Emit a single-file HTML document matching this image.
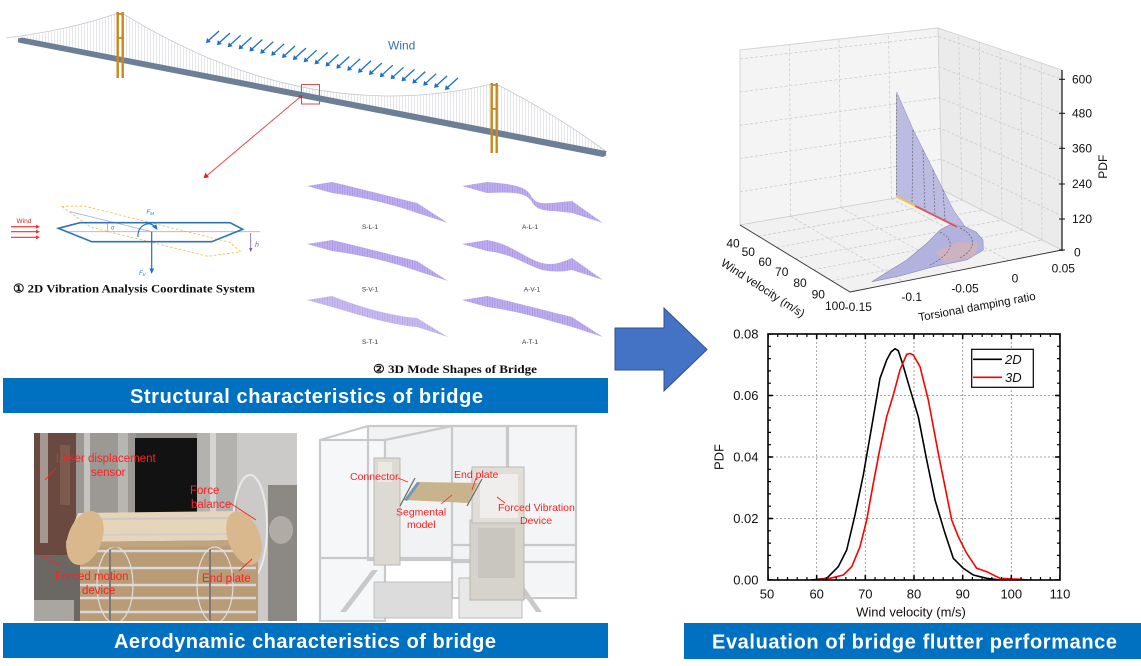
<!DOCTYPE html>
<html><head><meta charset="utf-8">
<style>
html,body{margin:0;padding:0;background:#fff;}
svg{display:block;}
text{font-family:"Liberation Sans",Arial,sans-serif;}
.sf{font-family:"Liberation Serif","Times New Roman",serif;font-weight:bold;}
</style></head><body>
<svg width="1141" height="666" viewBox="0 0 1141 666" xmlns="http://www.w3.org/2000/svg">
<defs>
<pattern id="hang" width="3" height="20" patternUnits="userSpaceOnUse">
<rect width="3" height="20" fill="#ffffff"/><rect x="0" width="0.7" height="20" fill="#d8dbe0"/>
</pattern>
<pattern id="mh" width="2.5" height="20" patternUnits="userSpaceOnUse">
<rect width="2.5" height="20" fill="#b4a2ec"/><rect x="0" width="0.8" height="20" fill="#9883e0"/>
</pattern>
<g id="wa"><line x1="13" y1="-12" x2="2" y2="-2" stroke="#1f6fc4" stroke-width="1.3"/><polygon points="0,0 1,-5 5,-1" fill="#1f6fc4"/></g>
<clipPath id="p1"><rect x="34" y="433" width="263" height="188"/></clipPath>
<clipPath id="p2"><rect x="316" y="424" width="292" height="198"/></clipPath>
<clipPath id="pl"><rect x="768" y="334" width="292" height="246"/></clipPath>
</defs>

<!-- ================= BRIDGE ================= -->
<path d="M12,39 Q70,30 118,13 L118,58.6 L22,40 Z" fill="url(#hang)"/>
<path d="M122,13 Q307,127.5 492,84 L492,131 L122,59.4 Z" fill="url(#hang)"/>
<path d="M496,84 Q552,112 607,152 L496,131.8 Z" fill="url(#hang)"/>
<path d="M6,38 Q70,30 118,13" fill="none" stroke="#c3c7ce" stroke-width="0.8"/>
<path d="M122,13 Q307,127.5 492,84" fill="none" stroke="#c3c7ce" stroke-width="0.8"/>
<path d="M496,84 Q552,112 607,152" fill="none" stroke="#c3c7ce" stroke-width="0.8"/>
<polygon points="18,38.5 22,37.5 606,151 606,155.5 603,157 18,42.5" fill="#6d7f96"/>
<!-- towers -->
<g fill="#c8891a">
<rect x="116.5" y="12" width="2.4" height="66"/><rect x="121.5" y="12" width="2.4" height="66"/>
<rect x="116.5" y="13" width="7.4" height="1.8"/><rect x="116.5" y="37" width="7.4" height="1.8"/>
<rect x="490.5" y="83" width="2.4" height="70"/><rect x="495.5" y="83" width="2.4" height="70"/>
<rect x="490.5" y="84" width="7.4" height="1.8"/><rect x="490.5" y="108" width="7.4" height="1.8"/>
</g>
<!-- wind arrows -->
<use href="#wa" x="206" y="43"/><use href="#wa" x="216.9" y="45.1"/><use href="#wa" x="227.7" y="47.3"/>
<use href="#wa" x="238.6" y="49.4"/><use href="#wa" x="249.4" y="51.5"/><use href="#wa" x="260.3" y="53.7"/>
<use href="#wa" x="271.2" y="55.8"/><use href="#wa" x="282" y="58"/><use href="#wa" x="292.9" y="60.1"/>
<use href="#wa" x="303.7" y="62.2"/><use href="#wa" x="314.6" y="64.4"/><use href="#wa" x="325.5" y="66.5"/>
<use href="#wa" x="336.3" y="68.6"/><use href="#wa" x="347.2" y="70.8"/><use href="#wa" x="358" y="72.9"/>
<use href="#wa" x="368.9" y="75"/><use href="#wa" x="379.8" y="77.2"/><use href="#wa" x="390.6" y="79.3"/>
<use href="#wa" x="401.5" y="81.4"/><use href="#wa" x="412.3" y="83.6"/><use href="#wa" x="423.2" y="85.7"/>
<use href="#wa" x="434.1" y="87.9"/><use href="#wa" x="444.9" y="90"/>
<text x="388" y="49.5" font-size="12" fill="#2e75b6">Wind</text>
<!-- red box + arrow -->
<rect x="301.5" y="84.5" width="18" height="19.5" fill="none" stroke="#e84a4a" stroke-width="1"/>
<circle cx="300.5" cy="96.7" r="1.6" fill="#e02020"/>
<line x1="300.5" y1="96.7" x2="207" y2="175.5" stroke="#e84a4a" stroke-width="1"/>
<polygon points="203.6,178.3 205.3,172.8 209,177.2" fill="#e02020"/>

<!-- ================= 2D SECTION ================= -->
<text x="16.5" y="223" font-size="6.5" fill="#e02020">Wind</text>
<g stroke="#ff2a2a" stroke-width="1.1">
<line x1="11" y1="226.7" x2="37" y2="226.7"/><line x1="11" y1="231.7" x2="37" y2="231.7"/><line x1="11" y1="237.3" x2="37" y2="237.3"/>
</g>
<g fill="#ff2a2a"><polygon points="40,226.7 36,224.8 36,228.6"/><polygon points="40,231.7 36,229.8 36,233.6"/><polygon points="40,237.3 36,235.4 36,239.2"/></g>
<polygon points="61.6,206.3 84.3,206.1 229.9,242.4 240.6,251.8 207.5,256.3 91.1,227.3" fill="none" stroke="#f2c14e" stroke-width="0.9" stroke-dasharray="2.5,2"/>
<line x1="66" y1="231.7" x2="260" y2="231.7" stroke="#b9a6e6" stroke-width="0.8"/>
<line x1="70" y1="211.7" x2="151.7" y2="231.7" stroke="#b9a6e6" stroke-width="0.8"/>
<path d="M107,223 Q108,228 107,232" fill="none" stroke="#9a86d8" stroke-width="0.7"/>
<polygon points="58.3,228.3 80,222.7 230,222.7 242.7,229.3 211.7,241.7 91.7,241.7" fill="none" stroke="#2e75b6" stroke-width="1.6"/>
<text x="111" y="229.5" font-size="6" font-style="italic" fill="#7a6ac8">α</text>
<path d="M138,237 C137,225 150,220 155,227" fill="none" stroke="#1f6fc4" stroke-width="1.1"/>
<polygon points="157.5,230 152,226.5 156.5,224.5" fill="#1f6fc4"/>
<text x="146.5" y="214" font-size="6" font-style="italic" fill="#2e75b6">F<tspan font-size="4.5" dy="1">M</tspan></text>
<line x1="151.7" y1="231.7" x2="151.7" y2="270" stroke="#1f6fc4" stroke-width="1.2"/>
<polygon points="151.7,274 149.4,268.5 154,268.5" fill="#1f6fc4"/>
<text x="139" y="275" font-size="6" font-style="italic" fill="#2e75b6">F<tspan font-size="4.5" dy="1">V</tspan></text>
<line x1="250.7" y1="233" x2="250.7" y2="249" stroke="#7a5ab8" stroke-width="0.8"/>
<polygon points="250.7,252 249,248 252.4,248" fill="#7a5ab8"/>
<text x="255" y="247" font-size="7" font-style="italic" fill="#7a5ab8">h</text>
<text class="sf" x="13" y="292.5" font-size="12" fill="#111" textLength="242" lengthAdjust="spacingAndGlyphs">① 2D Vibration Analysis Coordinate System</text>

<!-- ================= MODE SHAPES ================= -->
<g fill="url(#mh)" opacity="0.85">
<path transform="translate(307,186)" d="M0,0 L25,-4 C55,3 85,11 110,17 L141,37 L110,27 C85,18 55,11 25,7 Z"/>
<path transform="translate(462,186)" d="M0,0 L25,-4 C50,-2 62,0 68,8 C72,16 76,18 90,17 L110,15 L141,37 L110,27 L92,25 C80,25 73,22 70,16 C64,6 50,6 25,7 Z"/>
<path transform="translate(307,244)" d="M0,0 L25,-4 C55,3 85,11 110,17 L141,37 L110,27 C85,18 55,11 25,7 Z"/>
<path transform="translate(462,244)" d="M0,0 L25,-4 C50,0 62,14 80,19 C92,22 100,18 110,14 L141,36 L110,26 C100,28 92,28 80,26 C62,20 50,10 25,7 Z"/>
<path transform="translate(307,300)" d="M0,0 L25,-4 C55,8 85,16 110,18 L141,37 L110,27 C85,25 55,16 25,7 Z" opacity="0.85"/>
<path transform="translate(462,300)" d="M0,0 L25,-4 C55,3 85,11 110,17 L141,37 L110,27 C85,20 55,11 25,7 Z"/>
</g>
<g font-size="6.5" fill="#333" text-anchor="middle">
<text x="370" y="229">S-L-1</text><text x="530" y="229">A-L-1</text>
<text x="370" y="291.5">S-V-1</text><text x="532" y="291.5">A-V-1</text>
<text x="370" y="344">S-T-1</text><text x="530" y="344">A-T-1</text>
</g>
<text class="sf" x="373" y="373" font-size="12" fill="#111" textLength="164" lengthAdjust="spacingAndGlyphs">② 3D Mode Shapes of Bridge</text>

<!-- ================= BANNERS ================= -->
<rect x="3" y="378" width="605" height="35" fill="#0070c0"/>
<text x="130" y="403" font-size="20" font-weight="bold" fill="#fff" textLength="353" lengthAdjust="spacing">Structural characteristics of bridge</text>
<rect x="3" y="623" width="605" height="35" fill="#0070c0"/>
<text x="114" y="648" font-size="20" font-weight="bold" fill="#fff" textLength="382" lengthAdjust="spacing">Aerodynamic characteristics of bridge</text>
<rect x="684" y="623" width="457" height="36" fill="#0070c0"/>
<text x="712" y="648.5" font-size="20" font-weight="bold" fill="#fff" textLength="405" lengthAdjust="spacing">Evaluation of bridge flutter performance</text>

<!-- big arrow -->
<polygon points="615,328 664,328 664,308 707,349.5 664,391 664,370 615,370" fill="#4472c4" stroke="#2f528f" stroke-width="1"/>

<!-- ================= PHOTO 1 ================= -->
<g clip-path="url(#p1)">
<rect x="34" y="433" width="263" height="188" fill="#8e8a86"/>
<rect x="34" y="433" width="42" height="125" fill="#6a4a40"/>
<rect x="40" y="433" width="8" height="110" fill="#a59890"/>
<rect x="60" y="445" width="10" height="60" fill="#7d5a4e"/>
<rect x="76" y="433" width="60" height="80" fill="#9c9995"/>
<rect x="84" y="433" width="6" height="80" fill="#c6c4c0"/>
<rect x="118" y="433" width="10" height="80" fill="#b8b6b2"/>
<rect x="135" y="438" width="62" height="76" fill="#121212"/>
<rect x="197" y="433" width="40" height="82" fill="#b4b2ae"/>
<rect x="210" y="433" width="6" height="82" fill="#d6d4d0"/>
<rect x="237" y="433" width="60" height="188" fill="#cbcac8"/>
<ellipse cx="250" cy="527" rx="17" ry="52" fill="none" stroke="#e8e8e8" stroke-width="2"/>
<rect x="268" y="485" width="29" height="136" fill="#8c8985"/>
<ellipse cx="281" cy="530" rx="12" ry="14" fill="#b0aca5"/>
<rect x="76" y="545" width="182" height="76" fill="#b99b76"/>
<g stroke="#d9d9d9" stroke-width="2.5"><line x1="80" y1="551" x2="256" y2="551"/><line x1="80" y1="568" x2="256" y2="568"/><line x1="80" y1="585" x2="256" y2="585"/><line x1="80" y1="598" x2="256" y2="598"/><line x1="80" y1="612" x2="256" y2="612"/></g>
<g stroke="#7c7a78" stroke-width="2"><line x1="110" y1="548" x2="110" y2="621"/><line x1="210" y1="548" x2="210" y2="621"/></g>
<ellipse cx="115" cy="585" rx="18" ry="38" fill="none" stroke="#dedede" stroke-width="1.2"/>
<ellipse cx="215" cy="585" rx="18" ry="38" fill="none" stroke="#dedede" stroke-width="1.2"/>
<rect x="34" y="555" width="46" height="66" fill="#6b6864"/>
<rect x="34" y="600" width="40" height="21" fill="#a9a6a2"/>
<polygon points="78,513 241,511 258,540 66,542" fill="#e6d5b9"/>
<line x1="86" y1="519" x2="240" y2="518" stroke="#c9c9c9" stroke-width="2"/>
<line x1="76" y1="535" x2="250" y2="534" stroke="#cfcfcf" stroke-width="2"/>
<polygon points="66,542 258,540 258,546 66,548" fill="#bfa47f"/>
<ellipse cx="85" cy="538" rx="17" ry="28" fill="#d8b88c" transform="rotate(20 85 538)"/>
<ellipse cx="244" cy="538" rx="16" ry="28" fill="#d8b88c" transform="rotate(-20 244 538)"/>
</g>
<g fill="#ff2020" font-size="11.5">
<text x="56" y="462">Laser displacement</text><text x="91" y="476">sensor</text>
<text x="190" y="494">Force</text><text x="191" y="508">balance</text>
<text x="55" y="580">Forced motion</text><text x="82" y="594">device</text>
<text x="202" y="582">End plate</text>
</g>
<g stroke="#ff2020" stroke-width="0.9">
<line x1="56" y1="468" x2="45" y2="480"/><line x1="230" y1="503" x2="256" y2="520"/>
<line x1="62" y1="566" x2="42" y2="556"/><line x1="239" y1="571" x2="252" y2="559"/>
</g>

<!-- ================= RENDER ================= -->
<g clip-path="url(#p2)">
<rect x="452" y="426" width="124" height="170" fill="#f4f5f6"/>
<rect x="368" y="426" width="140" height="134" fill="#f1f2f3"/>
<rect x="320" y="440" width="65" height="180" fill="#f6f7f8"/>
<g fill="none" stroke="#c8c9ca" stroke-width="2.2">
<rect x="320" y="440" width="65" height="181"/>
<rect x="368" y="426" width="140" height="134"/>
<rect x="452" y="426" width="124" height="172"/>
<line x1="320" y1="558" x2="452" y2="558"/><line x1="452" y1="562" x2="576" y2="562"/>
<line x1="320" y1="440" x2="368" y2="426"/><line x1="385" y1="440" x2="452" y2="426"/>
<line x1="507" y1="426" x2="507" y2="545"/><line x1="452" y1="545" x2="576" y2="545"/>
</g>
<rect x="374" y="458" width="26" height="107" fill="#dddad3" stroke="#bdbab3" stroke-width="1"/>
<rect x="378" y="462" width="14" height="20" fill="#ebe9e4"/>
<polygon points="340,612 346,612 378,570 372,570" fill="#c9c9c9"/>
<polygon points="536,612 542,612 512,570 506,570" fill="#c9c9c9"/>
<rect x="374" y="582" width="78" height="36" fill="#dcdcdc" stroke="#c0c0c0"/>
<rect x="459" y="578" width="63" height="40" fill="#e8e8e8" stroke="#bcbcbc"/>
<rect x="470" y="520" width="54" height="80" fill="#d6d3cc" stroke="#b8b5ae"/>
<rect x="478" y="528" width="37" height="50" fill="#c9c6bf"/>
<rect x="472" y="467" width="52" height="56" fill="#e1ded8" stroke="#bdbab3"/>
<rect x="480" y="474" width="38" height="44" fill="#efeeec"/>
<polygon points="404,500 417,482 478,483 468,503" fill="#c8b48c"/>
<polygon points="404,500 417,482 420,483 407,501" fill="#6f9ab8"/>
<line x1="400" y1="506" x2="415" y2="478" stroke="#666" stroke-width="1.2"/>
<line x1="467" y1="506" x2="482" y2="479" stroke="#666" stroke-width="1.2"/>
</g>
<g fill="#ff2020" font-size="10.5">
<text x="350" y="480">Connector</text><text x="454" y="478">End plate</text>
<text x="396" y="515.5">Segmental</text><text x="407" y="528">model</text>
<text x="498" y="511">Forced Vibration</text><text x="520" y="524">Device</text>
</g>
<g stroke="#ff2020" stroke-width="0.8">
<line x1="398" y1="478" x2="408" y2="482"/><line x1="441" y1="504" x2="452" y2="495"/>
<line x1="476" y1="478" x2="472" y2="490"/><line x1="505" y1="503" x2="497" y2="497"/>
</g>

<!-- ================= 3D PLOT ================= -->
<polygon points="740,225 740,50 938,28 942,190" fill="#f4f4f4" stroke="#cfcfcf" stroke-width="0.8"/>
<polygon points="942,190 938,28 1062,70 1062,250" fill="#ebebeb" stroke="#cfcfcf" stroke-width="0.8"/>
<polygon points="740,225 942,190 1062,250 850,292" fill="#f1f1f1" stroke="#cfcfcf" stroke-width="0.8"/>
<g stroke="#cdcdcd" stroke-width="0.8" stroke-dasharray="3,2" fill="none">
<line x1="790.5" y1="216.25" x2="789.5" y2="44.5"/><line x1="841" y1="207.5" x2="839" y2="39"/><line x1="891.5" y1="198.75" x2="888.5" y2="33.5"/>
<line x1="962" y1="200" x2="958.7" y2="35"/><line x1="982" y1="210" x2="979.3" y2="42"/><line x1="1002" y1="220" x2="1000" y2="49"/><line x1="1022" y1="230" x2="1020.7" y2="56"/><line x1="1042" y1="240" x2="1041.3" y2="63"/>
<polyline points="740,191.8 941.2,159.2 1062,215.8"/><polyline points="740,158.5 940.5,128.4 1062,181.6"/>
<polyline points="740,125.3 939.7,97.7 1062,147.4"/><polyline points="740,92 939,66.9 1062,113.2"/>
<polyline points="740,58.9 938.2,36.3 1062,79.2"/>
<line x1="790.5" y1="216.25" x2="903" y2="281.5"/><line x1="841" y1="207.5" x2="956" y2="271"/><line x1="891.5" y1="198.75" x2="1009" y2="260.5"/>
<line x1="758.3" y1="236.2" x2="962" y2="200"/><line x1="776.7" y1="247.3" x2="982" y2="210"/><line x1="795" y1="258.5" x2="1002" y2="220"/><line x1="813.3" y1="269.7" x2="1022" y2="230"/><line x1="831.7" y1="280.8" x2="1042" y2="240"/>
</g>
<!-- surface -->
<polygon points="953,223 940,230 926.7,243.3 906.7,260 871.7,281.7 900,276 933.3,266.7 966.7,260 983.3,250 983,240 976,232 965,226.7" fill="#b2b2de" stroke="#8c8cb0" stroke-width="0.6"/>
<polygon points="935,252 958,242 978,243 975,256 945,263" fill="#d8b2b4" opacity="0.7"/>
<polygon points="896.7,92 913.3,130 933.3,170 953.3,210 965,226.7 956.7,226.7 896.7,196.7" fill="#b6b6e2" stroke="#8d8db5" stroke-width="0.6" opacity="0.9"/>
<g stroke="#555" stroke-width="0.6" stroke-dasharray="2,1.5" fill="none">
<line x1="896.7" y1="95" x2="896.7" y2="196"/><line x1="913" y1="130" x2="912" y2="204"/><line x1="923" y1="150" x2="925" y2="210"/>
<line x1="933" y1="170" x2="935" y2="215"/><line x1="943" y1="190" x2="945" y2="220"/>
<path d="M960,228 C975,235 978,248 960,258"/><path d="M940,232 C955,240 955,252 930,265"/>
</g>
<line x1="896.7" y1="196.7" x2="956.7" y2="226.7" stroke="#e05050" stroke-width="1.8"/>
<line x1="896.7" y1="196.7" x2="915" y2="206" stroke="#f0d040" stroke-width="1.8"/>
<!-- axes -->
<polyline points="740,225 850,292 1062,250" fill="none" stroke="#333" stroke-width="0.9"/>
<line x1="1062" y1="70" x2="1062" y2="251" stroke="#111" stroke-width="1.2"/>
<g stroke="#111" stroke-width="1"><line x1="1059" y1="79.3" x2="1065" y2="79.3"/><line x1="1059" y1="113.3" x2="1065" y2="113.3"/><line x1="1059" y1="148.3" x2="1065" y2="148.3"/><line x1="1059" y1="184" x2="1065" y2="184"/><line x1="1059" y1="219" x2="1065" y2="219"/><line x1="1059" y1="250" x2="1065" y2="250"/></g>
<g font-size="12" fill="#111">
<text x="1072" y="83.5">600</text><text x="1072" y="117.5">480</text><text x="1072" y="152.5">360</text><text x="1072" y="188">240</text><text x="1072" y="223">120</text><text x="1074" y="256.5">0</text>
</g>
<text x="1107" y="166.7" font-size="12" fill="#111" text-anchor="middle" transform="rotate(-90 1107 166.7)">PDF</text>
<g font-size="12" fill="#111" text-anchor="middle">
<text x="733" y="247.5">40</text><text x="748.3" y="256">50</text><text x="765" y="266">60</text><text x="781.7" y="276">70</text><text x="800" y="287">80</text><text x="818.3" y="298.5">90</text><text x="835" y="310">100</text>
<text x="858.3" y="311">-0.15</text><text x="911.7" y="301">-0.1</text><text x="965" y="292.5">-0.05</text><text x="1015" y="282.5">0</text><text x="1063.3" y="272.5">0.05</text>
</g>
<text x="763" y="292" font-size="11.5" fill="#111" text-anchor="middle" transform="rotate(33 763 288)">Wind velocity (m/s)</text>
<text x="977" y="310.5" font-size="11.5" fill="#111" text-anchor="middle" transform="rotate(-10.5 977 306.7)">Torsional damping ratio</text>

<!-- ================= 2D PLOT ================= -->
<g stroke="#8a8a8a" stroke-width="0.8" stroke-dasharray="2,2">
<line x1="816.7" y1="334" x2="816.7" y2="580"/><line x1="865.3" y1="334" x2="865.3" y2="580"/><line x1="914" y1="334" x2="914" y2="580"/><line x1="962.7" y1="334" x2="962.7" y2="580"/><line x1="1011.3" y1="334" x2="1011.3" y2="580"/>
<line x1="768" y1="518.5" x2="1060" y2="518.5"/><line x1="768" y1="457" x2="1060" y2="457"/><line x1="768" y1="395.5" x2="1060" y2="395.5"/>
</g>
<g clip-path="url(#pl)" fill="none" stroke-width="1.6" stroke-linejoin="round">
<polyline stroke="#000" points="811,580 826.7,578.3 838.3,566.7 846.7,550 855,515 863.3,475 871.7,426.7 880,378.3 886.7,360 891,352 895,348.7 898.3,350.7 903,365 908.3,383.3 918.3,416.7 926.7,460 935,500 945,533.3 953.3,558.3 963.3,568.3 973.3,575 986.7,578.3 1000,580"/>
<polyline stroke="#ff0000" points="811,580.5 830,578.3 843.3,575 851.7,566.7 860,546.7 866.7,520 873.3,483.3 880,448.3 886.7,416.7 893.3,395 900,370 906.7,354.3 910,353.5 913.3,355 920,366.7 928.3,400 933.3,426.7 938.3,453.3 945,486.7 951.7,520 958.3,536.7 966.7,553.3 976.7,568.3 986.7,571.7 1000,578.3 1020,579.3 1035,580.5"/>
</g>
<rect x="768" y="334" width="292" height="246" fill="none" stroke="#000" stroke-width="1.6"/>
<g stroke="#000" fill="none">
<line x1="768" y1="578.5" x2="1060" y2="578.5" stroke-width="3" stroke-dasharray="1.2,8.533" stroke-dashoffset="0.6"/>
<line x1="768" y1="335.5" x2="1060" y2="335.5" stroke-width="3" stroke-dasharray="1.2,8.533" stroke-dashoffset="0.6"/>
<line x1="768" y1="577.5" x2="1060" y2="577.5" stroke-width="5" stroke-dasharray="1.5,47.17" stroke-dashoffset="0.75"/>
<line x1="768" y1="336.5" x2="1060" y2="336.5" stroke-width="5" stroke-dasharray="1.5,47.17" stroke-dashoffset="0.75"/>
<line x1="769.5" y1="580" x2="769.5" y2="334" stroke-width="3" stroke-dasharray="1.2,11.1" stroke-dashoffset="0.6"/>
<line x1="1058.5" y1="580" x2="1058.5" y2="334" stroke-width="3" stroke-dasharray="1.2,11.1" stroke-dashoffset="0.6"/>
<line x1="770.5" y1="580" x2="770.5" y2="334" stroke-width="5" stroke-dasharray="1.5,60" stroke-dashoffset="0.75"/>
<line x1="1057.5" y1="580" x2="1057.5" y2="334" stroke-width="5" stroke-dasharray="1.5,60" stroke-dashoffset="0.75"/>
</g>
<g font-size="13" fill="#111" text-anchor="end">
<text x="758.5" y="584.5">0.00</text><text x="758.5" y="523">0.02</text><text x="758.5" y="461.5">0.04</text><text x="758.5" y="400">0.06</text><text x="758.5" y="338.5">0.08</text>
</g>
<g font-size="13" fill="#111" text-anchor="middle">
<text x="767" y="598.5">50</text><text x="816.7" y="598.5">60</text><text x="865.3" y="598.5">70</text><text x="914" y="598.5">80</text><text x="962.7" y="598.5">90</text><text x="1011.3" y="598.5">100</text><text x="1060" y="598.5">110</text>
</g>
<text x="911" y="616.5" font-size="13" fill="#111" text-anchor="middle">Wind velocity (m/s)</text>
<text x="723.5" y="457" font-size="13" fill="#111" text-anchor="middle" transform="rotate(-90 723.5 457)">PDF</text>
<rect x="971.7" y="349.3" width="61.6" height="38" fill="#fff" stroke="#000" stroke-width="1.2"/>
<line x1="973" y1="359.3" x2="1002" y2="359.3" stroke="#000" stroke-width="1.6"/>
<line x1="973" y1="377.3" x2="1002" y2="377.3" stroke="#ff0000" stroke-width="1.6"/>
<text x="1005" y="364" font-size="13" font-style="italic" fill="#111">2D</text>
<text x="1005" y="382" font-size="13" font-style="italic" fill="#111">3D</text>
</svg>
</body></html>
